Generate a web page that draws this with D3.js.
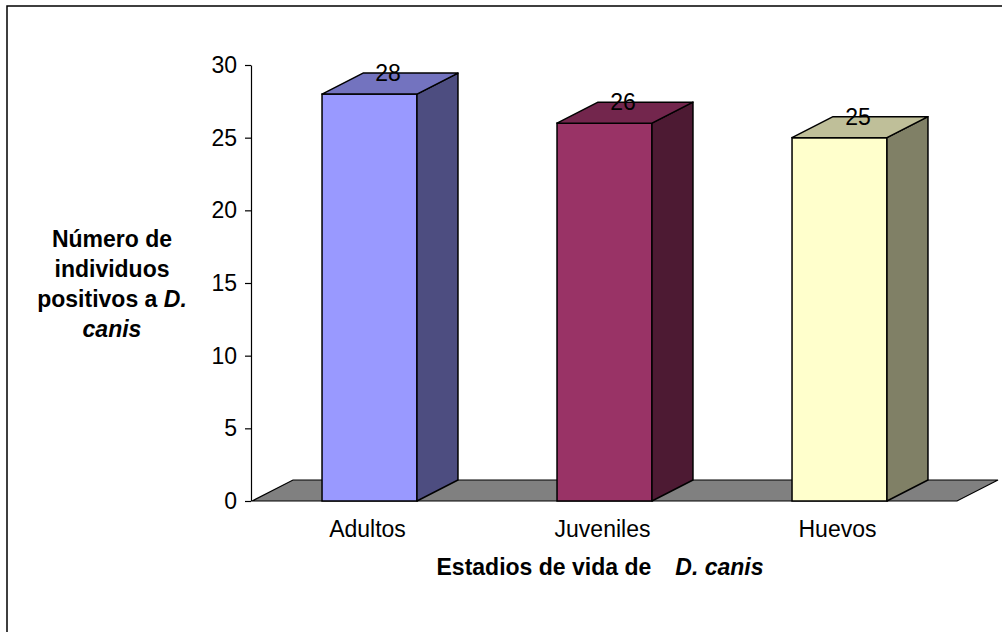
<!DOCTYPE html>
<html>
<head>
<meta charset="utf-8">
<script src="https://cdn.jsdelivr.net/npm/d3@7"></script>
<style>
  html, body { margin: 0; padding: 0; background: #fff; }
  svg { display: block; font-family: "Liberation Sans", Arial, sans-serif; }
</style>
</head>
<body>
<svg id="chart" width="1002" height="632"></svg>
<script>
// Life stages and counts of positive individuals
const categories = ["Adultos", "Juveniles", "Huevos"];
const values = [28, 26, 25];
const yTicks = [0, 5, 10, 15, 20, 25, 30];
const frontColors = ["#9999FF", "#993366", "#FFFFCC"];

const svg = d3.select("#chart");

// Plot frame (front plane) and depth offset of the 3-D look
const plotLeft = 252, plotRight = 957, plotBottom = 501, plotTop = 65;
const depthX = 41, depthY = -21;

const x = d3.scaleBand()
  .domain(categories)
  .range([plotLeft, plotRight])
  .paddingInner(0.596)
  .paddingOuter(0.298);

const y = d3.scaleLinear().domain([0, 30]).range([plotBottom, plotTop]);

// Outer chart border (left and top edges visible)
svg.append("path")
  .attr("d", "M7,640 L7,6 L1010,6")
  .attr("fill", "none")
  .attr("stroke", "#000")
  .attr("stroke-width", 1.5);

// Floor
const floorPts = [
  [plotLeft, plotBottom], [plotRight, plotBottom],
  [plotRight + depthX, plotBottom + depthY], [plotLeft + depthX, plotBottom + depthY]
];
svg.append("path")
  .attr("d", d3.line()(floorPts) + "Z")
  .attr("fill", "#808080")
  .attr("stroke", "#000")
  .attr("stroke-width", 1.2);

// Y axis
const yAxis = d3.axisLeft(y)
  .tickValues(yTicks)
  .tickSize(6)
  .tickPadding(8)
  .tickSizeOuter(0);

const gY = svg.append("g")
  .attr("transform", `translate(${plotLeft - 1},0)`)
  .call(yAxis);
gY.select(".domain").attr("stroke", "#000").attr("stroke-width", 1.2);
gY.selectAll(".tick line").attr("stroke", "#000").attr("stroke-width", 1.2);
gY.selectAll(".tick text")
  .attr("font-size", 23)
  .attr("font-family", "Liberation Sans, Arial, sans-serif")
  .attr("fill", "#000");

// Shade helper for side and top faces
function shade(c, k) {
  const r = d3.rgb(c);
  return d3.rgb(r.r * k, r.g * k, r.b * k).formatHex();
}

const bars = svg.append("g");
categories.forEach((cat, i) => {
  const x0 = x(cat), x1 = x(cat) + x.bandwidth();
  const yTop = y(values[i]), yBase = y(0);
  const g = bars.append("g");
  // front
  g.append("rect")
    .attr("x", x0).attr("y", yTop)
    .attr("width", x1 - x0).attr("height", yBase - yTop)
    .attr("fill", frontColors[i])
    .attr("stroke", "#000").attr("stroke-width", 1.5);
  // right side
  g.append("path")
    .attr("d", d3.line()([
      [x1, yTop], [x1 + depthX, yTop + depthY],
      [x1 + depthX, yBase + depthY], [x1, yBase]
    ]) + "Z")
    .attr("fill", shade(frontColors[i], 0.5))
    .attr("stroke", "#000").attr("stroke-width", 1.5)
    .attr("stroke-linejoin", "round");
  // top
  g.append("path")
    .attr("d", d3.line()([
      [x0, yTop], [x1, yTop],
      [x1 + depthX, yTop + depthY], [x0 + depthX, yTop + depthY]
    ]) + "Z")
    .attr("fill", shade(frontColors[i], 0.75))
    .attr("stroke", "#000").attr("stroke-width", 1.5)
    .attr("stroke-linejoin", "round");
  // value label
  g.append("text")
    .attr("x", (x0 + x1) / 2 + depthX / 2 - 2)
    .attr("y", yTop + depthY + 8)
    .attr("text-anchor", "middle")
    .attr("font-size", 23)
    .attr("fill", "#000")
    .text(values[i]);
});

// Category labels
svg.append("g").selectAll("text")
  .data(categories)
  .join("text")
  .attr("x", d => x(d) + x.bandwidth() / 2 - 2)
  .attr("y", 537)
  .attr("text-anchor", "middle")
  .attr("font-size", 23)
  .attr("fill", "#000")
  .text(d => d);

// X axis title
const xt = svg.append("text")
  .attr("x", 600)
  .attr("y", 575)
  .attr("text-anchor", "middle")
  .attr("font-size", 23)
  .attr("font-weight", "bold")
  .attr("fill", "#000");
xt.append("tspan").text("Estadios de vida de");
xt.append("tspan").attr("dx", 24).attr("font-style", "italic").text("D. canis");

// Y axis title
const ytLines = [
  [["Número de", false]],
  [["individuos", false]],
  [["positivos a\u00A0", false], ["D.", true]],
  [["canis", true]]
];
const yt = svg.append("text")
  .attr("text-anchor", "middle")
  .attr("font-size", 23)
  .attr("font-weight", "bold")
  .attr("fill", "#000");
ytLines.forEach((parts, li) => {
  parts.forEach((p, pi) => {
    const t = yt.append("tspan")
      .attr("font-style", p[1] ? "italic" : "normal")
      .text(p[0]);
    if (pi === 0) t.attr("x", 112).attr("y", 247 + li * 30);
  });
});
</script>
</body>
</html>
